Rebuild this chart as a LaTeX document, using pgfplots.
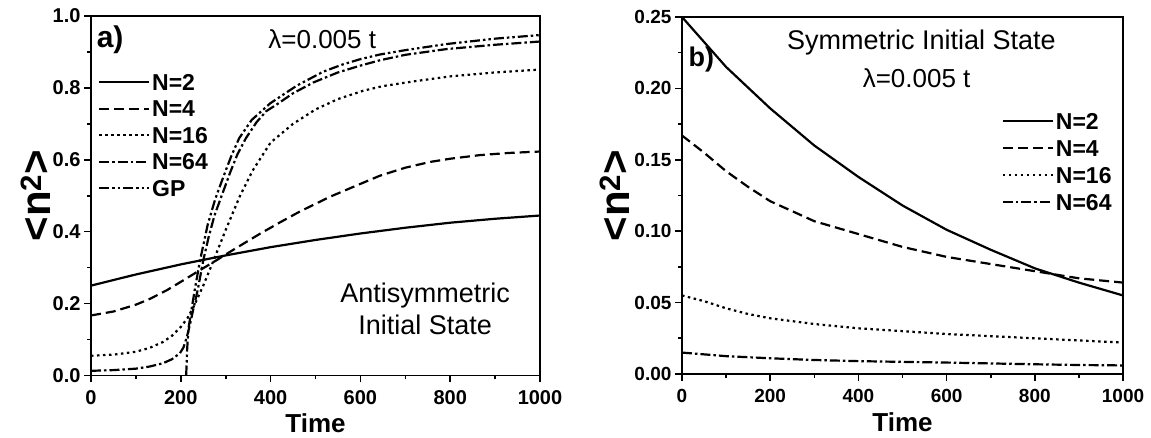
\documentclass[border=0pt]{standalone}
\usepackage{fontspec}
\setmainfont{Liberation Sans}
\usepackage{pgfplots}
\pgfplotsset{compat=1.18}

\pgfplotsset{
  panel/.style={
    scale only axis, anchor=south west,
    axis line style={line width=1.8pt},
    every tick/.style={line width=1.6pt, black},
    major tick length=7pt, minor tick length=4pt,
    tick align=outside, tick pos=left,
    minor x tick num=1, minor y tick num=1,
    xmin=0, xmax=1000, xtick={0,200,400,600,800,1000},
    scaled ticks=false,
    /pgf/number format/assume math mode=true,
    /pgf/number format/1000 sep={},
    xticklabel style={yshift=-5pt, /pgf/number format/.cd, fixed, precision=0},
    every axis x label/.style={at={(axis description cs:0.5,0)}, anchor=base, yshift=-57.5pt,
      font=\fontsize{26}{26}\selectfont\bfseries},
    every axis y label/.style={rotate=90, anchor=center,
      font=\fontsize{42}{42}\selectfont\bfseries},
    legend cell align=left,
    legend image code/.code={\draw[##1] (0pt,0pt) -- (50pt,0pt);},
    no marks,
  },
  s2/.style={black, line width=2.2pt, solid},
  s4/.style={black, line width=2.2pt, dash pattern=on 10pt off 5pt},
  s16/.style={black, line width=2.2pt, dash pattern=on 2.5pt off 3.5pt},
  s64/.style={black, line width=2.2pt, dash pattern=on 10pt off 3pt on 2.5pt off 3pt},
  sgp/.style={black, line width=2.2pt, dash pattern=on 10pt off 3pt on 2.5pt off 3pt on 2.5pt off 3pt},
}

\begin{document}
\begin{tikzpicture}
\useasboundingbox (0,0) rectangle (1151pt,438pt);

% ---------------- panel a ----------------
\begin{axis}[panel,
  at={(91pt,62.5pt)}, width=449pt, height=359.5pt,
  ymin=0, ymax=1, ytick={0,0.2,0.4,0.6,0.8,1},
  tick label style={font=\fontsize{20}{20}\selectfont\bfseries},
  yticklabel style={/pgf/number format/.cd, fixed, fixed zerofill, precision=1},
  xlabel={Time}, ylabel={<n\textsuperscript{2}>},
  ylabel style={at={(axis description cs:-0.1225,0.5)}},
  legend style={at={(rel axis cs:0.0156,0.839)}, anchor=north west, draw=none, fill=none,
    inner sep=0pt, outer sep=0pt, row sep=10pt, column sep=2pt,
    font=\fontsize{23}{23}\selectfont\bfseries,
    nodes={inner sep=0pt, text height=16.5pt, text depth=0pt}},
]
\addplot[s2] coordinates {(0,0.250) (100,0.281) (200,0.309) (300,0.334) (400,0.357) (500,0.377) (600,0.395) (700,0.411) (800,0.425) (900,0.436) (1000,0.445)};
\addlegendentry{N=2}
\addplot[s4] coordinates {(0,0.167) (50,0.178) (100,0.197) (131,0.213) (170,0.238) (206,0.265) (240,0.291) (280,0.321) (320,0.352) (376,0.394) (421,0.426) (465,0.456) (532,0.497) (600,0.533) (644,0.556) (700,0.578) (755,0.594) (800,0.603) (866,0.613) (930,0.619) (1000,0.623)};
\addlegendentry{N=4}
\addplot[s16] coordinates {(0,0.055) (50,0.058) (100,0.066) (131,0.077) (160,0.093) (180,0.110) (200,0.135) (215,0.160) (230,0.195) (250,0.250) (272,0.317) (300,0.405) (332,0.500) (360,0.570) (400,0.648) (450,0.700) (500,0.740) (550,0.769) (606,0.792) (650,0.805) (718,0.818) (800,0.832) (900,0.843) (1000,0.851)};
\addlegendentry{N=16}
\addplot[s64] coordinates {(0,0.013) (50,0.015) (100,0.019) (131,0.025) (160,0.034) (180,0.045) (198,0.062) (206,0.078) (213,0.105) (220,0.140) (228,0.185) (238,0.240) (250,0.320) (262,0.385) (275,0.445) (291,0.500) (310,0.565) (326,0.615) (345,0.660) (369,0.705) (390,0.735) (415,0.755) (450,0.785) (495,0.815) (550,0.843) (600,0.862) (644,0.877) (700,0.892) (792,0.908) (900,0.920) (1000,0.929)};
\addlegendentry{N=64}
\addplot[sgp] coordinates {(212,0.000) (214,0.070) (217,0.130) (224,0.185) (232,0.245) (243,0.321) (260,0.420) (276,0.488) (284,0.516) (300,0.570) (313,0.612) (330,0.660) (358,0.711) (399,0.757) (458,0.806) (517,0.845) (560,0.865) (600,0.880) (644,0.893) (700,0.905) (792,0.922) (900,0.937) (1000,0.947)};
\addlegendentry{GP}
\node[anchor=west, font=\fontsize{30}{30}\selectfont\bfseries] at (axis cs:5,0.935) {a)};
\node[font=\fontsize{26}{26}\selectfont] at (axis cs:515,0.935) {λ=0.005 t};
\node[align=center, font=\fontsize{27}{32}\selectfont] at (axis cs:744,0.185) {Antisymmetric\\Initial State};
\end{axis}

% ---------------- panel b ----------------
\begin{axis}[panel,
  at={(682pt,64pt)}, width=441pt, height=357pt,
  ymin=0, ymax=0.25, ytick={0,0.05,0.1,0.15,0.2,0.25},
  tick label style={font=\fontsize{19}{19}\selectfont\bfseries},
  yticklabel style={/pgf/number format/.cd, fixed, fixed zerofill, precision=2},
  xlabel={Time}, ylabel={<n\textsuperscript{2}>},
  ylabel style={at={(axis description cs:-0.152,0.5)}},
  legend style={at={(rel axis cs:0.725,0.732)}, anchor=north west, draw=none, fill=none,
    inner sep=0pt, outer sep=0pt, row sep=10.5pt, column sep=2pt,
    font=\fontsize{23}{23}\selectfont\bfseries,
    nodes={inner sep=0pt, text height=16.5pt, text depth=0pt}},
]
\addplot[s2] coordinates {(0,0.250) (100,0.215) (200,0.186) (300,0.160) (400,0.138) (500,0.118) (600,0.101) (700,0.087) (800,0.074) (900,0.064) (1000,0.055)};
\addlegendentry{N=2}
\addplot[s4] coordinates {(0,0.167) (50,0.155) (100,0.142) (150,0.131) (200,0.121) (300,0.107) (400,0.098) (500,0.089) (600,0.082) (700,0.077) (800,0.072) (900,0.067) (1000,0.064)};
\addlegendentry{N=4}
\addplot[s16] coordinates {(0,0.055) (50,0.051) (100,0.046) (150,0.042) (200,0.039) (300,0.035) (400,0.032) (500,0.030) (600,0.028) (700,0.0265) (800,0.025) (900,0.0235) (1000,0.022)};
\addlegendentry{N=16}
\addplot[s64] coordinates {(0,0.015) (100,0.0125) (200,0.011) (300,0.0098) (400,0.009) (500,0.0085) (600,0.008) (700,0.0074) (800,0.0068) (900,0.0063) (1000,0.006)};
\addlegendentry{N=64}
\node[anchor=west, font=\fontsize{27}{27}\selectfont\bfseries] at (axis cs:7,0.22) {b)};
\node[font=\fontsize{27}{27}\selectfont] at (axis cs:543,0.2318) {Symmetric Initial State};
\node[font=\fontsize{26}{26}\selectfont] at (axis cs:532,0.2073) {λ=0.005 t};
\end{axis}
\end{tikzpicture}
\end{document}
